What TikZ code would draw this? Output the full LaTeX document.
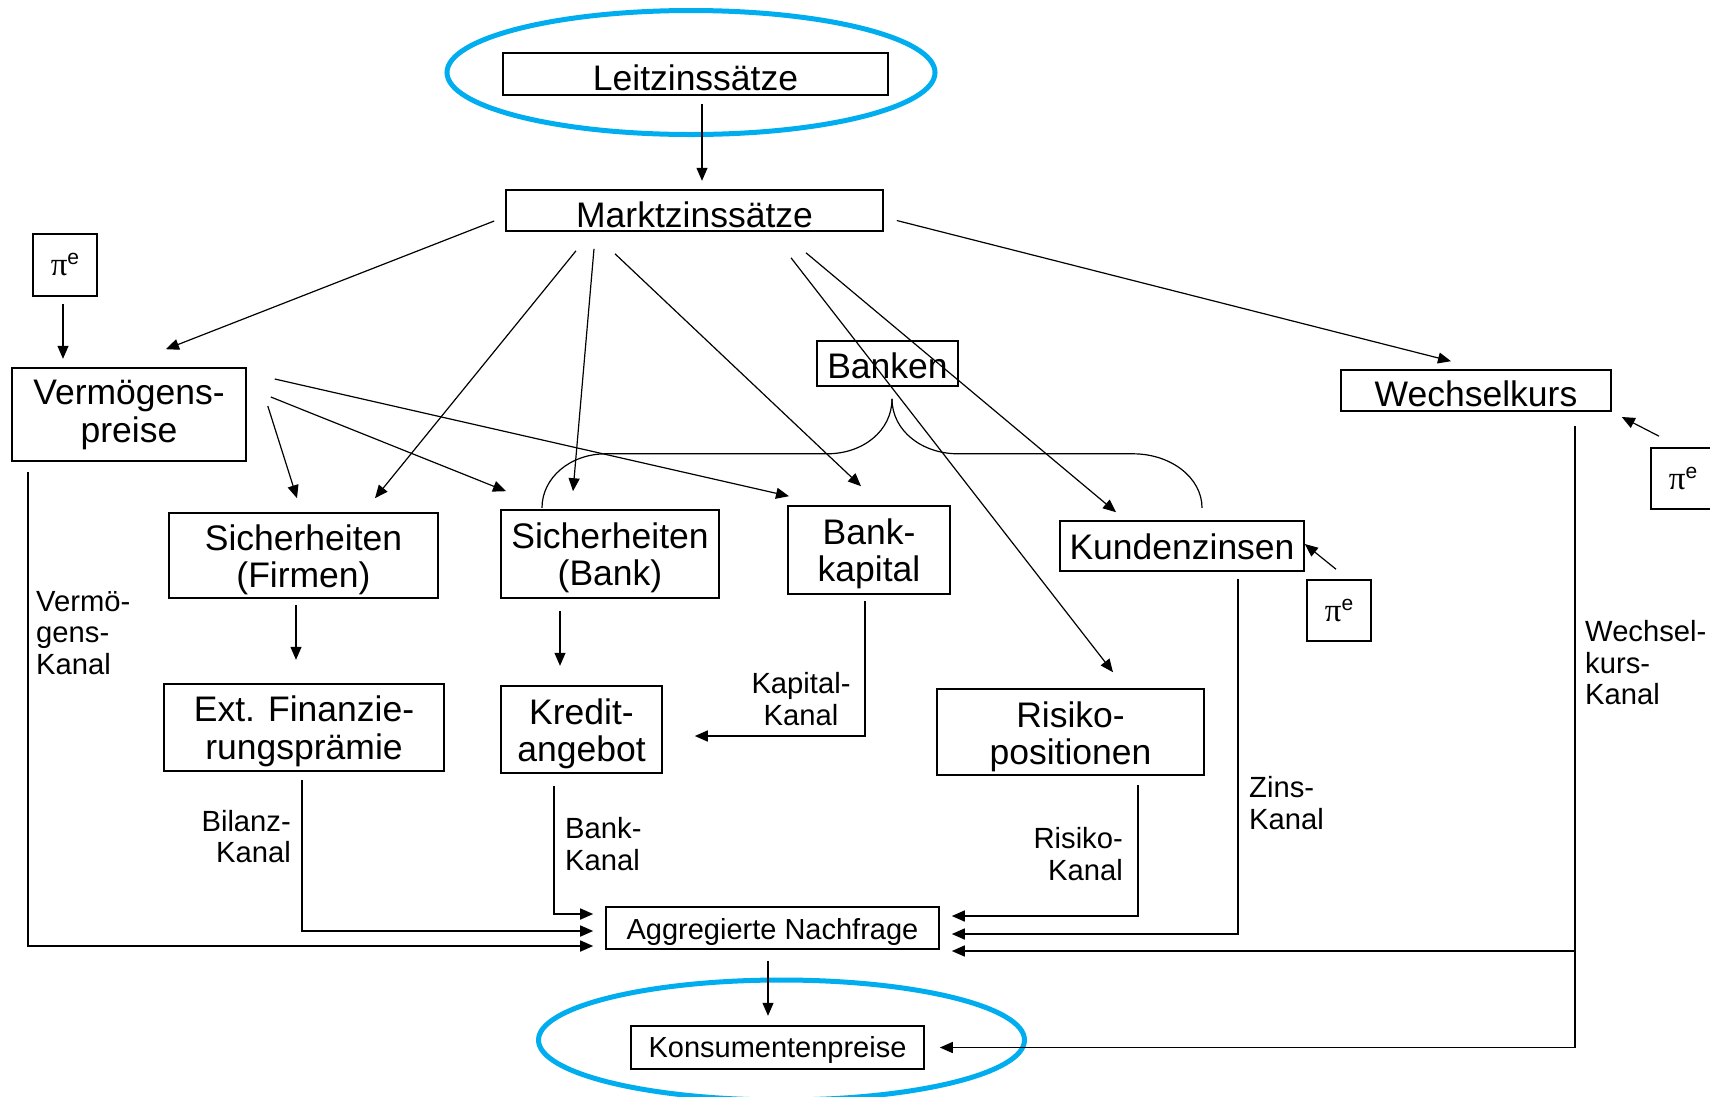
\documentclass[tikz,border=0pt]{standalone}
\usepackage{fontspec}
\setmainfont{Liberation Sans}
\newfontfamily\grk{Liberation Serif}
\usetikzlibrary{arrows.meta}
\definecolor{ellblue}{RGB}{0,174,239}
\newcommand\myBig{\fontsize{35.5}{37.5}\selectfont}
\newcommand\mySmall{\fontsize{29}{31}\selectfont}
\newcommand\myChan{\fontsize{29.2}{31.5}\selectfont}
\newcommand\myStrutB{\rule{0pt}{30pt}}
\newcommand\myStrutS{\rule{0pt}{25pt}}
\newcommand\mypie{{\grk\fontsize{33}{33}\selectfont π}\raisebox{11pt}{\fontsize{21}{21}\selectfont e}}
\tikzset{
  box/.style={draw, line width=1.6pt, inner sep=0pt},
  txt/.style={inner sep=0pt, align=center, font=\myBig, anchor=north},
  stxt/.style={txt, font=\mySmall},
  pbox/.style={draw, line width=1.6pt, inner sep=0pt, align=center, font=\myBig},
  arr/.style={line width=1.2pt, -{Triangle[length=13pt,width=11pt]}},
  chan/.style={line width=1.6pt, -{Triangle[length=13pt,width=11pt]}},
  chanlab/.style={inner sep=0pt, font=\myChan},
  ell/.style={draw=ellblue, line width=5pt},
}
\begin{document}
\begin{tikzpicture}[x=1pt,y=-1pt]
\useasboundingbox (0,0) rectangle (1710,1096);
% highlight ellipses
\draw[ell] (691,72.5) ellipse [x radius=244pt, y radius=62pt];
\draw[ell] (781.5,1040) ellipse [x radius=243pt, y radius=60pt];
% boxes
\node[box, minimum width=385pt, minimum height=42pt] (leitz) at (695.5,74) {};
\node[box, minimum width=377pt, minimum height=41pt] (markt) at (694.5,210.5) {};
\node[pbox, minimum width=64pt, minimum height=62pt] (pe1) at (65,265) {\mypie};
\node[box, minimum width=234pt, minimum height=93pt] (verm) at (129,414.5) {};
\node[box, minimum width=141pt, minimum height=45pt] (banken) at (887.5,363.5) {};
\node[box, minimum width=270pt, minimum height=41pt] (wechsel) at (1476,390.5) {};
\node[pbox, minimum width=64pt, minimum height=61pt] (pe2) at (1683,478.5) {\mypie};
\node[box, minimum width=269pt, minimum height=85pt] (sichf) at (303.5,555.5) {};
\node[box, minimum width=218pt, minimum height=88pt] (sichb) at (610,554) {};
\node[box, minimum width=162pt, minimum height=88pt] (bankkap) at (869,550) {};
\node[box, minimum width=244pt, minimum height=50pt] (kunden) at (1182,546) {};
\node[pbox, minimum width=64pt, minimum height=61pt] (pe3) at (1339,610.5) {\mypie};
\node[box, minimum width=280pt, minimum height=87pt] (ext) at (304,727.5) {};
\node[box, minimum width=161pt, minimum height=87pt] (kredit) at (581.5,729.5) {};
\node[box, minimum width=267pt, minimum height=86pt] (risiko) at (1070.5,732) {};
\node[box, minimum width=333pt, minimum height=42pt] (aggr) at (772.5,928) {};
\node[box, minimum width=293pt, minimum height=43pt] (konsum) at (777.5,1047.5) {};
% box texts
\node[txt] (leitzT) at ([yshift=-8.5pt]leitz.north) {\myStrutB Leitzinssätze};
\node[txt] (marktT) at ([yshift=-7.8pt]markt.north) {\myStrutB Marktzinssätze};
\node[txt] (vermT) at ([yshift=-7.4pt]verm.north) {\myStrutB Vermögens-\\preise};
\node[txt] (bankenT) at ([yshift=-8.4pt]banken.north) {\myStrutB Banken};
\node[txt] (wechselT) at ([yshift=-7.5pt]wechsel.north) {\myStrutB Wechselkurs};
\node[txt] (sichfT) at ([yshift=-7.7pt]sichf.north) {\myStrutB Sicherheiten\\(Firmen)};
\node[txt] (sichbT) at ([yshift=-8.8pt]sichb.north) {\myStrutB Sicherheiten\\(Bank)};
\node[txt] (bankkapT) at ([yshift=-8.6pt]bankkap.north) {\myStrutB Bank-\\kapital};
\node[txt] (kundenT) at ([yshift=-9.4pt]kunden.north) {\myStrutB Kundenzinsen};
\node[txt] (extT) at ([yshift=-8.5pt]ext.north) {\myStrutB Ext. Finanzie-\\rungsprämie};
\node[txt] (kreditT) at ([yshift=-8.6pt]kredit.north) {\myStrutB Kredit-\\angebot};
\node[txt] (risikoT) at ([yshift=-8.8pt]risiko.north) {\myStrutB Risiko-\\positionen};
\node[stxt] (aggrT) at ([yshift=-7.6pt]aggr.north) {\myStrutS Aggregierte Nachfrage};
\node[stxt] (konsumT) at ([yshift=-6.8pt]konsum.north) {\myStrutS Konsumentenpreise};
% vertical short arrows
\draw[arr] ([shift={(6.5,8)}]leitz.south) -- ++(0,77);
\draw[arr] ([shift={(-2,7)}]pe1.south) -- ++(0,55);
\draw[arr] ([shift={(-7.5,6)}]sichf.south) -- ++(0,55);
\draw[arr] ([shift={(-50,12)}]sichb.south) -- ++(0,55);
\draw[arr] ([shift={(-4.5,11)}]aggr.south) -- ++(0,55);
% from Marktzinssaetze
\draw[arr] ([shift={(-11,10.5)}]markt.west) -- ([shift={(37,-18)}]verm.north);
\draw[arr] ([shift={(-118.5,19)}]markt.south) -- ([shift={(71.5,-14)}]sichf.north);
\draw[arr] ([shift={(-100.5,17)}]markt.south) -- ([shift={(-37,-18)}]sichb.north);
\draw[arr] ([shift={(-79.5,22)}]markt.south) -- ([shift={(-8,-19)}]bankkap.north);
\draw[arr] ([shift={(96.5,26)}]markt.south) -- ([shift={(42.5,-16)}]risiko.north);
\draw[arr] ([shift={(111.5,21)}]markt.south) -- ([shift={(-66,-8)}]kunden.north);
\draw[arr] ([shift={(13,10)}]markt.east) -- ([shift={(-25,-8)}]wechsel.north);
% from Vermoegenspreise
\draw[arr] ([shift={(21,-8.5)}]verm.east) -- ([shift={(-6.5,-14)}]sichf.north);
\draw[arr] ([shift={(24,-17.5)}]verm.east) -- ([shift={(-104,-18)}]sichb.north);
\draw[arr] ([shift={(28,-35.5)}]verm.east) -- ([shift={(-80,-9)}]bankkap.north);
% inflation expectations
\draw[arr] ([shift={(-24,-11)}]pe2.north) -- ([shift={(10,26.5)}]wechsel.east);
\draw[arr] ([shift={(-3,-10)}]pe3.north) -- ([shift={(0,-2)}]kunden.east);
% Banken brace
\draw[line width=1.2pt] ([shift={(4.5,12)}]banken.south) .. controls +(0,32) and +(36,0) .. ++(-65,55)
   -- ++(-221,0) .. controls +(-36,0) and +(0,-30) .. ++(-64,54);
\draw[line width=1.2pt] ([shift={(4.5,12)}]banken.south) .. controls +(0,32) and +(-36,0) .. ++(66,55)
   -- ++(175,0) .. controls +(38,0) and +(0,-30) .. ++(69,54);
% channels
\draw[chan] ([shift={(17,10)}]verm.south west) |- ([shift={(-12,18)}]aggr.west);
\draw[chan] ([shift={(-2,8)}]ext.south) |- ([shift={(-12,3)}]aggr.west);
\draw[chan] ([shift={(-27.5,12)}]kredit.south) |- ([shift={(-12,-14)}]aggr.west);
\draw[chan] ([shift={(-4,6)}]bankkap.south) |- ([shift={(32,6.5)}]kredit.east);
\draw[chan] ([shift={(67.5,9)}]risiko.south) |- ([shift={(12,-12)}]aggr.east);
\draw[chan] ([shift={(56,7)}]kunden.south) |- ([shift={(12,6)}]aggr.east);
\coordinate (wk) at ([shift={(99,14)}]wechsel.south);
\coordinate (ae3) at ([shift={(12,23)}]aggr.east);
\draw[chan] (wk) |- ([shift={(15,0)}]konsum.east);
\draw[chan] (wk |- ae3) -- (ae3);
% channel labels
\node[chanlab, anchor=west, align=left] (lv) at (36,633) {Vermö-\\gens-\\Kanal};
\node[chanlab, anchor=east, align=right] (lb) at (291,836.5) {Bilanz-\\Kanal};
\node[chanlab, anchor=west, align=left] (lbk) at (565,844) {Bank-\\Kanal};
\node[chanlab, align=center] (lk) at (801,699) {Kapital-\\Kanal};
\node[chanlab, anchor=east, align=right] (lr) at (1123,854) {Risiko-\\Kanal};
\node[chanlab, anchor=west, align=left] (lz) at (1249,803) {Zins-\\Kanal};
\node[chanlab, anchor=west, align=left] (lw) at (1585,663) {Wechsel-\\kurs-\\Kanal};
\end{tikzpicture}
\end{document}
